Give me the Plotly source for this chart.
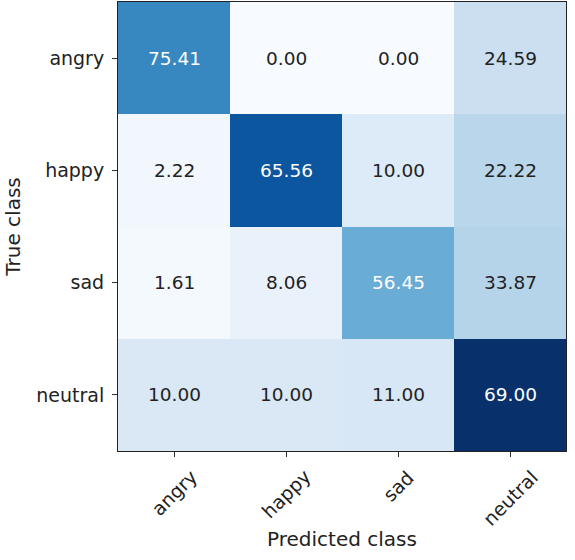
import plotly.graph_objects as go

classes = ["angry", "happy", "sad", "neutral"]
# raw counts (drive the colour), rows = true class, cols = predicted class
counts = [
    [46, 0, 0, 15],
    [2, 59, 9, 20],
    [1, 5, 35, 21],
    [10, 10, 11, 69],
]
# row-normalised percentages (displayed text)
percent = [
    [75.41, 0.00, 0.00, 24.59],
    [2.22, 65.56, 10.00, 22.22],
    [1.61, 8.06, 56.45, 33.87],
    [10.00, 10.00, 11.00, 69.00],
]

blues = [
    [0.0, "rgb(247,251,255)"], [0.125, "rgb(222,235,247)"], [0.25, "rgb(198,219,239)"],
    [0.375, "rgb(158,202,225)"], [0.5, "rgb(107,174,214)"], [0.625, "rgb(66,146,198)"],
    [0.75, "rgb(33,113,181)"], [0.875, "rgb(8,81,156)"], [1.0, "rgb(8,48,107)"],
]

vmax = max(max(r) for r in counts)
thresh = vmax / 2.0
FONT = "DejaVu Sans"
TXT = "#222"

fig = go.Figure(go.Heatmap(
    z=counts, x=classes, y=classes, colorscale=blues, zmin=0, zmax=vmax,
    showscale=False, hoverinfo="skip", xgap=0, ygap=0,
))

annotations = []
for i, tc in enumerate(classes):
    for j, pc in enumerate(classes):
        annotations.append(dict(
            x=pc, y=tc, xref="x", yref="y", showarrow=False,
            text=f"{percent[i][j]:.2f}",
            font=dict(family=FONT, size=18.5,
                      color="white" if counts[i][j] > thresh else TXT),
        ))

# rotated x tick labels, centred under each tick (matplotlib style)
for pc in classes:
    annotations.append(dict(
        x=pc, xref="x", y=0, yref="paper", yshift=-12,
        xanchor="center", yanchor="top", textangle=-45, showarrow=False,
        text=pc, font=dict(family=FONT, size=19, color=TXT),
    ))

axis_common = dict(
    showline=True, linecolor="#222", linewidth=1, mirror=True,
    ticks="outside", ticklen=5, tickwidth=1, tickcolor="#333",
    showgrid=False, zeroline=False,
    tickfont=dict(family=FONT, size=19, color=TXT),
)

fig.update_layout(
    width=575, height=560,
    margin=dict(l=118, r=9, t=2, b=109),
    plot_bgcolor="white", paper_bgcolor="white",
    annotations=annotations,
    xaxis=dict(**axis_common, showticklabels=False,
               title=dict(text="Predicted class", font=dict(family=FONT, size=20, color=TXT), standoff=75)),
    yaxis=dict(**axis_common, autorange="reversed", ticklabelstandoff=4,
               title=dict(text="True class", font=dict(family=FONT, size=20, color=TXT), standoff=10)),
)

fig.write_html("out.html")
